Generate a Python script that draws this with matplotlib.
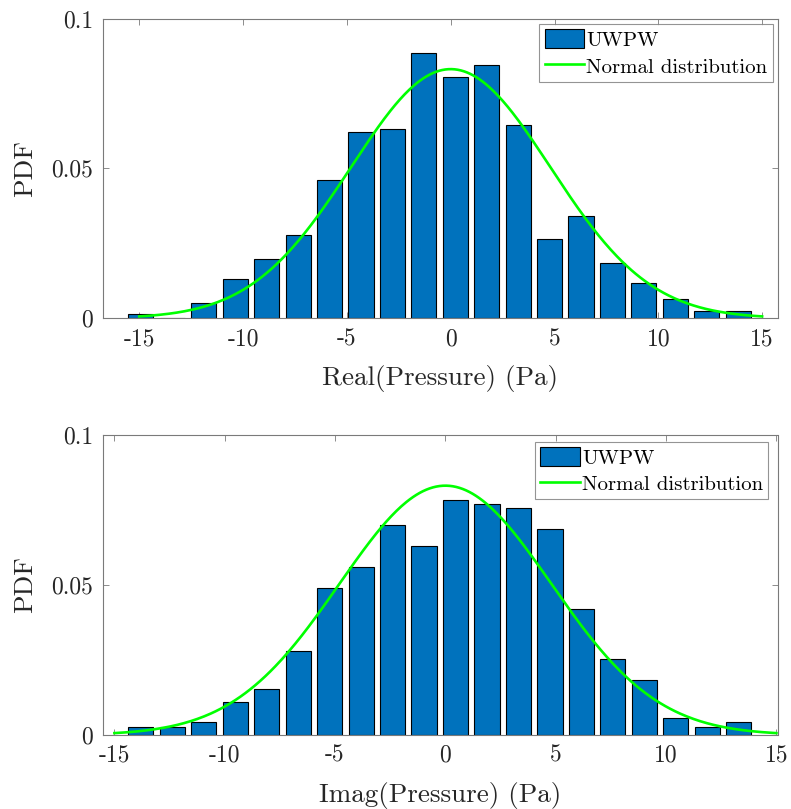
import numpy as np
import matplotlib
matplotlib.use("Agg")
import matplotlib.pyplot as plt
from matplotlib.ticker import FixedLocator, FixedFormatter

plt.rcParams['font.family'] = ['cmr10', 'DejaVu Serif']
plt.rcParams['axes.unicode_minus'] = False
plt.rcParams['axes.formatter.use_mathtext'] = False

# ---------------- data ----------------
real_bin_start = -15.677   # left edge of first bin
real_bin_width = 1.514
real_pdf = [0.0013, 0.0, 0.0052, 0.0131, 0.0197, 0.0277, 0.0460, 0.0620, 0.0633, 0.0884,
            0.0805, 0.0844, 0.0645, 0.0263, 0.0342, 0.0184, 0.0117, 0.0065, 0.0026, 0.0026]

imag_bin_start = -14.513
imag_bin_width = 1.426
imag_pdf = [0.0028, 0.0028, 0.0042, 0.0111, 0.0154, 0.0280, 0.0489, 0.0560, 0.0699, 0.0629,
            0.0783, 0.0769, 0.0756, 0.0687, 0.0420, 0.0252, 0.0183, 0.0056, 0.0028, 0.0042]

normal_mu = 0.0
normal_sigma = 4.80
normal_range = (-15, 15)

xticks = [-15, -10, -5, 0, 5, 10, 15]
xtick_labels = ['-15', '-10', '-5', '0', '5', '10', '15']
yticks = [0, 0.05, 0.1]
ytick_labels = ['0', '0.05', '0.1']

xlabels = ['Real(Pressure) (Pa)', 'Imag(Pressure) (Pa)']
ylabel = 'PDF'
legend_labels = ['UWPW', 'Normal distribution']

# ---------------- style ----------------
BAR_COLOR = '#0072BD'
LINE_COLOR = '#00FF00'
AX_COLOR = '#262626'
FRAME_COLOR = '#7a7a7a'

fig = plt.figure(figsize=(7.91, 8.09), dpi=100)
W, H = 791, 809


def make_axes(left_px, top_px, right_px, bottom_px):
    return fig.add_axes([left_px / W, 1 - bottom_px / H,
                         (right_px - left_px) / W, (bottom_px - top_px) / H])


ax1 = make_axes(102.7, 18.5, 777.5, 318.3)
ax2 = make_axes(102.7, 435.0, 777.5, 735.0)

panels = [
    (ax1, real_bin_start, real_bin_width, real_pdf, (-16.76, 15.74), xlabels[0], (0.9926, 0.981)),
    (ax2, imag_bin_start, imag_bin_width, imag_pdf, (-15.53, 15.05), xlabels[1], (0.9866, 0.977)),
]

xs = np.linspace(normal_range[0], normal_range[1], 400)
normal_pdf = np.exp(-0.5 * ((xs - normal_mu) / normal_sigma) ** 2) / (normal_sigma * np.sqrt(2 * np.pi))

for ax, b0, bw, pdf, xlim, xl, leg_anchor in panels:
    centers = b0 + bw * (np.arange(len(pdf)) + 0.5)
    bars = ax.bar(centers, pdf, width=0.8 * bw, color=BAR_COLOR, edgecolor='black',
                  linewidth=0.8, zorder=2)
    ln, = ax.plot(xs, normal_pdf, color=LINE_COLOR, lw=1.9, zorder=3)
    ax.set_xlim(*xlim)
    ax.set_ylim(0, 0.1)
    ax.xaxis.set_major_locator(FixedLocator(xticks))
    ax.xaxis.set_major_formatter(FixedFormatter(xtick_labels))
    ax.yaxis.set_major_locator(FixedLocator(yticks))
    ax.yaxis.set_major_formatter(FixedFormatter(ytick_labels))
    ax.tick_params(direction='in', length=4, width=0.6, colors=FRAME_COLOR,
                   labelcolor=AX_COLOR, labelsize=17, top=True, right=True, pad=7)
    for s in ax.spines.values():
        s.set_color(FRAME_COLOR)
        s.set_linewidth(0.8)
        s.set_zorder(4)
    ax.set_xlabel(xl, fontsize=19.5, color=AX_COLOR, labelpad=11)
    ax.set_ylabel(ylabel, fontsize=19.5, color=AX_COLOR)
    ax.yaxis.set_label_coords(-0.098, 0.5)
    leg = ax.legend([bars, ln], legend_labels, loc='upper right', bbox_to_anchor=leg_anchor,
                    borderaxespad=0, fontsize=15, frameon=True, fancybox=False,
                    edgecolor=FRAME_COLOR, handlelength=1.9, handleheight=1.0,
                    handletextpad=0.1, borderpad=0.25, labelspacing=0.3)
    leg.get_frame().set_linewidth(0.8)
    leg.set_zorder(5)

fig.savefig('out.png', dpi=100)
